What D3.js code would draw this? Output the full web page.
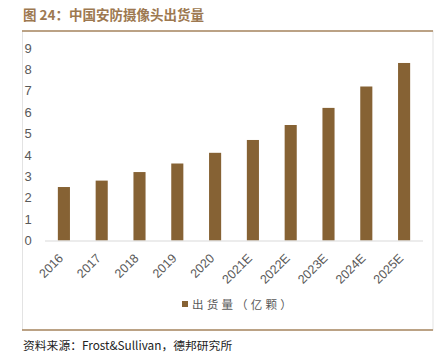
<!DOCTYPE html>
<html>
<head>
<meta charset="utf-8">
<script src="https://cdn.jsdelivr.net/npm/d3@7"></script>
<style>
  body { margin: 0; background: #fff; }
  svg { display: block; font-family: "Liberation Sans", Arial, sans-serif; }
</style>
</head>
<body>
<script>
// chart data
var years = ["2016", "2017", "2018", "2019", "2020", "2021E", "2022E", "2023E", "2024E", "2025E"];
var shipments = [2.5, 2.8, 3.2, 3.6, 4.1, 4.7, 5.4, 6.2, 7.2, 8.3];
var yTicks = [0, 1, 2, 3, 4, 5, 6, 7, 8, 9];
var seriesName = "出货量（亿颗）";
var titleText = "图 24：中国安防摄像头出货量";
var sourceText = "资料来源：Frost&Sullivan，德邦研究所";

var W = 446, H = 364;
var barColor = "#866234";
var brown = "#a98760";

var svg = d3.select("body").append("svg")
  .attr("width", W)
  .attr("height", H);

// title
svg.append("text")
  .attr("x", 23)
  .attr("y", 20)
  .attr("fill", "#9d7850")
  .style("font-family", "'Noto Sans CJK SC', sans-serif")
  .style("font-weight", "bold")
  .style("font-size", "13.5px")
  .text(titleText);

// frame: grey sides, brown top and bottom rules
svg.append("rect")
  .attr("x", 22.5).attr("y", 31)
  .attr("width", 410.5).attr("height", 299)
  .attr("fill", "none")
  .attr("stroke", "#e3e3e3");
svg.append("line")
  .attr("x1", 22).attr("x2", 433)
  .attr("y1", 31).attr("y2", 31)
  .attr("stroke", brown).attr("stroke-width", 1.5);
svg.append("line")
  .attr("x1", 22).attr("x2", 433)
  .attr("y1", 330).attr("y2", 330)
  .attr("stroke", brown).attr("stroke-width", 1.5);

// scales
var x = d3.scaleBand().domain(years).range([45, 423]).paddingInner(0.68).paddingOuter(0.34);
var y = d3.scaleLinear().domain([0, 9]).range([240.5, 48]);

// y tick labels (no axis line)
svg.append("g").selectAll("text")
  .data(yTicks)
  .join("text")
  .attr("x", 24.5)
  .attr("y", function(d) { return y(d); })
  .attr("dy", "0.36em")
  .attr("fill", "#595959")
  .style("font-size", "13px")
  .text(function(d) { return d; });

// bars
svg.append("g").selectAll("rect")
  .data(shipments)
  .join("rect")
  .attr("x", function(d, i) { return x(years[i]); })
  .attr("y", function(d) { return y(d); })
  .attr("width", x.bandwidth())
  .attr("height", function(d) { return y(0) - y(d); })
  .attr("fill", barColor);

// x axis line
svg.append("line")
  .attr("x1", 45).attr("x2", 423)
  .attr("y1", y(0) + 0.5).attr("y2", y(0) + 0.5)
  .attr("stroke", "#d9d9d9").attr("stroke-width", 1.2);

// x labels, rotated
svg.append("g").selectAll("text")
  .data(years)
  .join("text")
  .attr("transform", function(d) {
    return "translate(" + (x(d) + x.bandwidth() / 2) + "," + 259 + ") rotate(-45)";
  })
  .attr("text-anchor", "end")
  .attr("fill", "#595959")
  .style("font-size", "12.5px")
  .text(function(d) { return d; });

// legend
svg.append("rect")
  .attr("x", 182).attr("y", 301)
  .attr("width", 6).attr("height", 6)
  .attr("fill", barColor);
svg.append("text")
  .attr("x", 192)
  .attr("y", 308.5)
  .attr("fill", "#595959")
  .style("font-family", "'Noto Sans CJK SC', sans-serif")
  .style("font-size", "11.5px")
  .style("letter-spacing", "3.2px")
  .text(seriesName);

// source note
svg.append("text")
  .attr("x", 23)
  .attr("y", 350)
  .attr("fill", "#222")
  .style("font-family", "'Noto Sans CJK SC', sans-serif")
  .style("font-size", "11.8px")
  .text(sourceText);
</script>
</body>
</html>
